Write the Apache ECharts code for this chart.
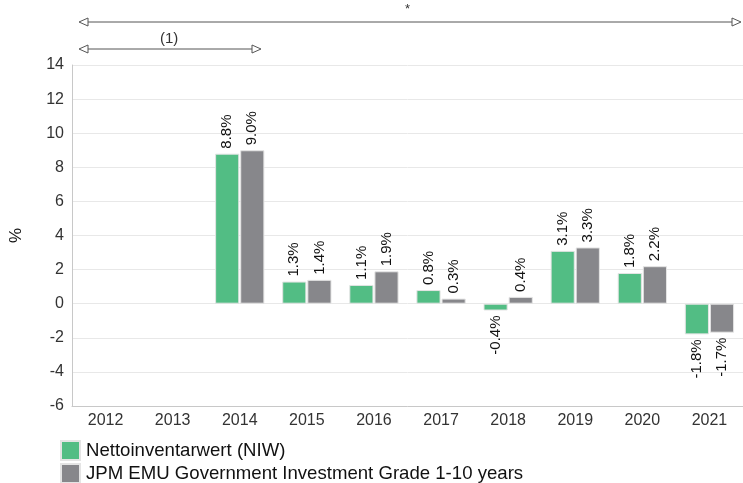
<!DOCTYPE html>
<html><head><meta charset="utf-8">
<script src="https://cdn.jsdelivr.net/npm/echarts@6/dist/echarts.min.js"></script>
<style>html,body{margin:0;padding:0;background:#fff}#c{width:743px;height:483px}</style>
</head><body><div id="c"></div>
<script>
const categories = ['2012','2013','2014','2015','2016','2017','2018','2019','2020','2021'];
const niwValues = [null,null,8.8,1.3,1.1,0.8,-0.4,3.1,1.8,-1.8];
const benchValues = [null,null,9.0,1.4,1.9,0.3,0.4,3.3,2.2,-1.7];
const seriesNames = ['Nettoinventarwert (NIW)','JPM EMU Government Investment Grade 1-10 years'];
const yTicks = {min:-6, max:14, interval:2};

const FONT = 'Liberation Sans, Arial, sans-serif';
function mk(values){
  return values.map(v => v === null ? null : {
    value: v,
    label: v >= 0 ? {position:'top', align:'left'} : {position:'bottom', align:'right'}
  });
}
const labelBase = {show:true, rotate:90, verticalAlign:'middle', distance:5, fontSize:15, fontFamily:FONT, color:'#111',
  formatter: p => p.value.toFixed(1) + '%'};

const chart = echarts.init(document.getElementById('c'), null, {renderer:'canvas'});
function arrow(x1,x2,y){
  const h=4, w=9;
  return [
    {type:'line', shape:{x1:x1+w,y1:y,x2:x2-w,y2:y}, style:{stroke:'#555',lineWidth:1}},
    {type:'polygon', shape:{points:[[x1,y],[x1+w,y-h],[x1+w,y+h]]}, style:{fill:'#fff',stroke:'#555',lineWidth:1}},
    {type:'polygon', shape:{points:[[x2,y],[x2-w,y-h],[x2-w,y+h]]}, style:{fill:'#fff',stroke:'#555',lineWidth:1}}
  ];
}
const legendCommon = {orient:'vertical', left:60, itemWidth:19, itemHeight:19, icon:'rect', padding:0,
  textStyle:{fontSize:18.6, color:'#111', fontFamily:FONT, padding:[0,0,0,1]}};
chart.setOption({
  animation:false,
  textStyle:{fontFamily:FONT},
  grid:{left:68, right:0, top:65, bottom:77, containLabel:false},
  legend:[
    Object.assign({top:440, data:[seriesNames[0]]}, legendCommon),
    Object.assign({top:463, data:[seriesNames[1]]}, legendCommon)
  ],
  xAxis:{
    type:'category', data:categories,
    axisLine:{show:true, onZero:false, lineStyle:{color:'#c8c8c8'}},
    axisTick:{show:false},
    axisLabel:{fontSize:16, color:'#333', margin:7, fontFamily:FONT}
  },
  yAxis:{
    type:'value', min:yTicks.min, max:yTicks.max, interval:yTicks.interval,
    name:'%', nameLocation:'middle', nameGap:47, nameRotate:90,
    nameTextStyle:{fontSize:17, color:'#111', fontFamily:FONT},
    axisLine:{show:true, lineStyle:{color:'#c8c8c8'}},
    axisTick:{show:false},
    axisLabel:{fontSize:16, color:'#333', margin:8, fontFamily:FONT},
    splitLine:{lineStyle:{color:'#e8e8e8'}}
  },
  series:[
    {name:seriesNames[0], type:'bar', data:mk(niwValues), barWidth:'36%', barGap:'4%',
     itemStyle:{color:'#52bd84', borderColor:'#e4e4e4', borderWidth:1}, label:labelBase},
    {name:seriesNames[1], type:'bar', data:mk(benchValues), barWidth:'36%', barGap:'4%',
     itemStyle:{color:'#87878b', borderColor:'#e4e4e4', borderWidth:1}, label:labelBase}
  ],
  graphic:[
    ...arrow(79,741,22),
    ...arrow(79,261,49),
    {type:'text', left:405, top:3, style:{text:'*', fill:'#333', font:'13px '+FONT}},
    {type:'text', left:160, top:31, style:{text:'(1)', fill:'#333', font:'15px '+FONT}}
  ]
});
</script></body></html>
